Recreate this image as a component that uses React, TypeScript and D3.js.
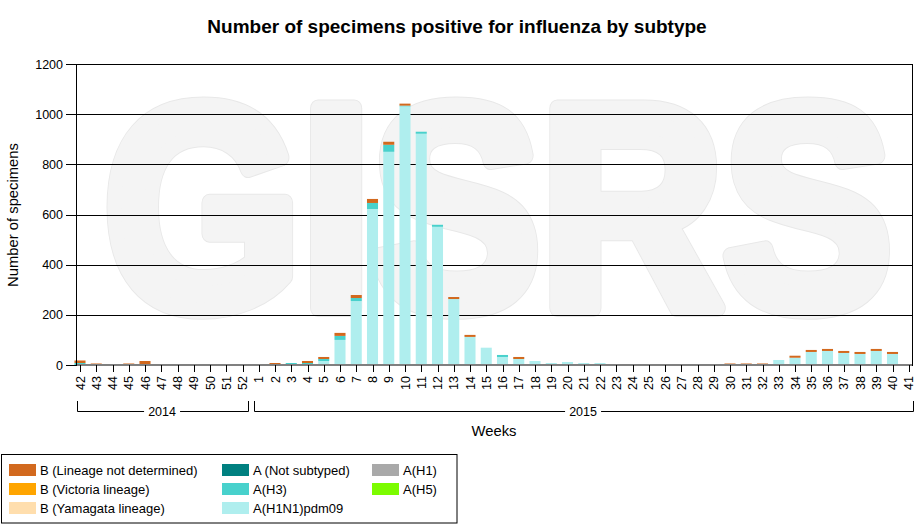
import React, { useRef, useEffect } from 'react';
import * as d3 from 'd3';

// week labels, 2014 wk 42 .. 2015 wk 41
const weeks = [
    '42', '43', '44', '45', '46', '47', '48', '49', '50', '51', '52',
    '1', '2', '3', '4', '5', '6', '7', '8', '9', '10',
    '11', '12', '13', '14', '15', '16', '17', '18', '19', '20',
    '21', '22', '23', '24', '25', '26', '27', '28', '29', '30',
    '31', '32', '33', '34', '35', '36', '37', '38', '39', '40', '41',
];
const yearLabels = ['2014', '2015'];
const yearWeekCounts = [11, 41];

// counts per week
const h1n1pdm09 = [
    0, 0, 0, 0, 0, 0, 0, 0, 0, 0, 0,
    0, 0, 0, 4, 16, 100, 255, 622, 850, 1031,
    922, 551, 263, 112, 69, 32, 24, 16, 8, 12,
    8, 8, 0, 3, 0, 3, 0, 0, 0, 0,
    0, 0, 20, 29, 52, 56, 48, 44, 56, 44, 0,
];
const h3 = [
    8, 0, 0, 0, 0, 0, 0, 0, 0, 0, 0,
    0, 0, 8, 4, 8, 16, 12, 24, 28, 3,
    8, 8, 0, 0, 0, 8, 0, 0, 0, 0,
    0, 0, 0, 0, 0, 0, 3, 3, 0, 0,
    0, 0, 0, 0, 0, 0, 0, 0, 0, 0, 0,
];
const bNotDetermined = [
    10, 6, 3, 6, 16, 3, 0, 0, 2, 0, 0,
    0, 8, 0, 8, 8, 12, 12, 16, 12, 8,
    0, 0, 8, 8, 0, 0, 8, 0, 0, 0,
    0, 0, 0, 0, 3, 0, 0, 0, 3, 6,
    6, 6, 0, 8, 8, 8, 8, 8, 8, 8, 0,
];

const yTicks = [0, 200, 400, 600, 800, 1000, 1200];

const legendLabels = [
    'B (Lineage not determined)', 'B (Victoria lineage)', 'B (Yamagata lineage)',
    'A (Not subtyped)', 'A(H3)', 'A(H1N1)pdm09',
    'A(H1)', 'A(H5)',
];
const legendColors = [
    '#D2691E', '#FFA500', '#FFDEAD',
    '#008080', '#48D1CC', '#AFEEEE',
    '#A9A9A9', '#7CFC00',
];

const FONT = '"Liberation Sans", Arial, sans-serif';

const App: React.FC = () => {
    const svgRef = useRef<SVGSVGElement | null>(null);

    useEffect(() => {
        if (!svgRef.current) return;
        const svg = d3.select(svgRef.current);
        svg.selectAll('*').remove();

        const left = 76, right = 912.5, top = 64, bottom = 365;
        const step = 16.25;
        const x0 = 80 - step / 2;

        const x = d3.scaleBand<number>()
            .domain(d3.range(weeks.length))
            .range([x0, x0 + step * weeks.length])
            .paddingInner(0.32)
            .paddingOuter(0.16);
        const y = d3.scaleLinear().domain([0, 1200]).range([bottom, top]);

        // watermark: outline pass, then a fat fill pass on top
        const mark = svg.append('g')
            .style('font-family', FONT)
            .style('font-weight', 'bold')
            .style('font-size', '290px');
        [{ stroke: '#e8e8e8', w: 18 }, { stroke: '#f4f4f4', w: 16 }].forEach(p => {
            mark.append('text')
                .attr('x', 104)
                .attr('y', 308)
                .attr('textLength', 788)
                .attr('lengthAdjust', 'spacingAndGlyphs')
                .style('fill', '#f4f4f4')
                .style('stroke', p.stroke)
                .style('stroke-width', p.w)
                .style('stroke-linejoin', 'round')
                .text('GISRS');
        });

        // title
        svg.append('text')
            .attr('x', 457).attr('y', 33)
            .attr('text-anchor', 'middle')
            .style('font-family', FONT).style('font-weight', 'bold').style('font-size', '19px')
            .text('Number of specimens positive for influenza by subtype');

        // gridlines
        svg.append('g').selectAll('line')
            .data(yTicks.filter(d => d > 0))
            .enter().append('line')
            .attr('x1', left).attr('x2', right)
            .attr('y1', d => Math.round(y(d)) + 0.5).attr('y2', d => Math.round(y(d)) + 0.5)
            .attr('stroke', '#000');

        // stacked bars
        const table = weeks.map((w, i) => ({ i, h1n1: h1n1pdm09[i], h3: h3[i], bnd: bNotDetermined[i] }));
        const keys = ['h1n1', 'h3', 'bnd'];
        const colors: Record<string, string> = { h1n1: '#AFEEEE', h3: '#48D1CC', bnd: '#D2691E' };
        const stacked = d3.stack<any>().keys(keys)(table);

        svg.append('g').selectAll('g')
            .data(stacked)
            .enter().append('g')
            .attr('fill', d => colors[d.key])
            .selectAll('rect')
            .data(d => d)
            .enter().append('rect')
            .attr('x', d => x(d.data.i) as number)
            .attr('width', x.bandwidth())
            .attr('y', d => y(d[1]))
            .attr('height', d => y(d[0]) - y(d[1]));

        // baseline, axis, frame
        svg.append('line')
            .attr('x1', left).attr('x2', right).attr('y1', bottom).attr('y2', bottom)
            .attr('stroke', '#808080').attr('stroke-width', 2);
        svg.append('line')
            .attr('x1', left + 0.5).attr('x2', left + 0.5).attr('y1', top).attr('y2', bottom + 1)
            .attr('stroke', '#000');
        svg.append('line')
            .attr('x1', right).attr('x2', right).attr('y1', top).attr('y2', bottom + 1)
            .attr('stroke', '#000');

        // y ticks
        const yAxis = svg.append('g');
        yAxis.selectAll('line')
            .data(yTicks)
            .enter().append('line')
            .attr('x1', 66).attr('x2', left)
            .attr('y1', d => Math.round(y(d)) + 0.5).attr('y2', d => Math.round(y(d)) + 0.5)
            .attr('stroke', '#000');
        yAxis.selectAll('text')
            .data(yTicks)
            .enter().append('text')
            .attr('x', 63).attr('y', d => y(d))
            .attr('dy', '0.36em')
            .attr('text-anchor', 'end')
            .style('font-family', FONT).style('font-size', '12.5px')
            .text(d => d);

        svg.append('text')
            .attr('transform', 'translate(18,215) rotate(-90)')
            .attr('text-anchor', 'middle')
            .style('font-family', FONT).style('font-size', '14.8px')
            .text('Number of specimens');

        // x ticks
        const xAxis = svg.append('g');
        const cx = (i: number) => (x(i) as number) + x.bandwidth() / 2;
        xAxis.selectAll('line')
            .data(d3.range(weeks.length))
            .enter().append('line')
            .attr('x1', i => Math.round(cx(i)) + 0.5).attr('x2', i => Math.round(cx(i)) + 0.5)
            .attr('y1', bottom).attr('y2', bottom + 7)
            .attr('stroke', '#000');
        xAxis.selectAll('text')
            .data(d3.range(weeks.length))
            .enter().append('text')
            .attr('transform', i => `translate(${cx(i)},376) rotate(-90)`)
            .attr('dy', '0.36em')
            .attr('text-anchor', 'end')
            .style('font-family', FONT).style('font-size', '12.5px')
            .text(i => weeks[i]);

        // year brackets
        let start = 0;
        yearLabels.forEach((label, k) => {
            const end = start + yearWeekCounts[k] - 1;
            const bx0 = k === 0 ? left + 0.5 : (cx(start - 1) + cx(start)) / 2 + 3;
            const bx1 = k === yearLabels.length - 1 ? right : (cx(end) + cx(end + 1)) / 2 - 3;
            const g = svg.append('g');
            g.append('path')
                .attr('d', `M${Math.round(bx0) + 0.5},401V411.5H${Math.round(bx1) + 0.5}V401`)
                .attr('fill', 'none').attr('stroke', '#000');
            const mid = (bx0 + bx1) / 2;
            g.append('rect')
                .attr('x', mid - 18).attr('y', 404).attr('width', 36).attr('height', 14)
                .attr('fill', '#fff');
            g.append('text')
                .attr('x', mid).attr('y', 411.5).attr('dy', '0.36em')
                .attr('text-anchor', 'middle')
                .style('font-family', FONT).style('font-size', '12.5px')
                .text(label);
            start = end + 1;
        });

        svg.append('text')
            .attr('x', 494).attr('y', 436)
            .attr('text-anchor', 'middle')
            .style('font-family', FONT).style('font-size', '14.8px')
            .text('Weeks');

        // legend
        svg.append('rect')
            .attr('x', 1.5).attr('y', 454.5).attr('width', 455.5).attr('height', 68.5)
            .attr('fill', '#fff').attr('stroke', '#000');
        const colX = [9, 222, 372];
        const legend = svg.selectAll('.legend')
            .data(legendLabels)
            .enter().append('g')
            .attr('class', 'legend')
            .attr('transform', (d, i) => `translate(${colX[Math.floor(i / 3)]},${464 + (i % 3) * 19})`);
        legend.append('rect')
            .attr('width', 27).attr('height', 12)
            .style('fill', (d, i) => legendColors[i]);
        legend.append('text')
            .attr('x', 31).attr('y', 6).attr('dy', '0.36em')
            .style('font-family', FONT).style('font-size', '13px')
            .text(d => d);
    }, []);

    return (
        <svg ref={svgRef} width="915" height="529"
            style={{ position: 'absolute', left: 0, top: 0, background: '#fff' }} />
    );
};

export default App;
